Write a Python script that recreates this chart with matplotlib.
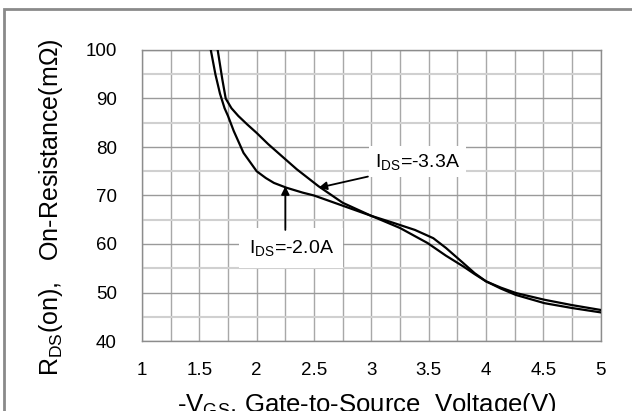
import matplotlib
matplotlib.use("Agg")
import matplotlib.pyplot as plt
from matplotlib.patches import Rectangle

plt.rcParams['font.family'] = ['Liberation Sans', 'DejaVu Sans']
plt.rcParams['mathtext.fontset'] = 'custom'
plt.rcParams['mathtext.rm'] = 'Liberation Sans'
plt.rcParams['mathtext.it'] = 'Liberation Sans'

# Data
v33 = [1.60, 1.66, 1.70, 1.73, 1.78, 1.84, 1.92, 2.00, 2.10, 2.22, 2.35, 2.54, 2.75,
       3.00, 3.20, 3.38, 3.54, 3.65, 3.80, 3.90, 4.00, 4.13, 4.26, 4.51, 4.75, 5.00]
r33 = [106, 100, 94, 90, 88, 86.4, 84.6, 82.9, 80.6, 78.1, 75.4, 71.9, 68.5,
       65.8, 64.3, 62.9, 61.2, 59.2, 56.1, 54.0, 52.3, 51.0, 49.9, 48.5, 47.4, 46.4]

v20 = [1.56, 1.60, 1.64, 1.68, 1.72, 1.75, 1.80, 1.885, 2.00, 2.08, 2.15, 2.26, 2.40,
       2.50, 2.75, 3.00, 3.25, 3.49, 3.65, 3.80, 3.90, 4.00, 4.13, 4.26, 4.51, 4.75, 5.00]
r20 = [106, 100, 95, 91, 88, 86.4, 83.3, 78.8, 75.0, 73.6, 72.6, 71.6, 70.6,
       70.0, 67.9, 65.8, 63.3, 60.2, 57.6, 55.4, 53.8, 52.3, 50.8, 49.5, 47.8, 46.8, 45.9]

xticks = [1, 1.5, 2, 2.5, 3, 3.5, 4, 4.5, 5]
xticklabels = ['1', '1.5', '2', '2.5', '3', '3.5', '4', '4.5', '5']
yticks = [40, 50, 60, 70, 80, 90, 100]

W, H = 632, 411
fig = plt.figure(figsize=(W / 100, H / 100), dpi=100)
ax = fig.add_axes([142 / W, 1 - 341 / H, (600.7 - 142) / W, (341 - 50) / H])

ax.set_xlim(1, 5)
ax.set_ylim(40, 100)

# grid
for i in range(17):
    xv = 1 + 0.25 * i
    ax.axvline(xv, color='#a8a8a8', lw=1.0, zorder=1)
for yv in [45, 55, 65, 75, 85, 95]:
    ax.axhline(yv, color='#d0d0d0', lw=1.5, zorder=1)
for yv in yticks:
    ax.axhline(yv, color='#9a9a9a', lw=1.0, zorder=1)

for s in ax.spines.values():
    s.set_color('#8c8c8c')
    s.set_linewidth(1.0)

ax.plot(v33, r33, color='black', lw=1.6, zorder=3, solid_joinstyle='round')
ax.plot(v20, r20, color='black', lw=1.6, zorder=3, solid_joinstyle='round')

ax.set_xticks(xticks)
ax.set_xticklabels(xticklabels)
ax.set_yticks(yticks)
ax.tick_params(axis='both', length=0, labelsize=13.5)
ax.tick_params(axis='x', pad=15)
ax.tick_params(axis='y', pad=18)

# annotations
ax.text(3.40, 77.0, r'I$_{\mathrm{DS}}$=-3.3A', fontsize=14, ha='center', va='center',
        zorder=5, bbox=dict(boxstyle='square,pad=0.3', fc='white', ec='none'))
ax.annotate('', xy=(2.54, 71.6), xytext=(2.97, 73.9),
            arrowprops=dict(arrowstyle='-|>', color='black', lw=1.3,
                            mutation_scale=12, shrinkA=0, shrinkB=0), zorder=6)

ax.text(2.30, 59.2, r'I$_{\mathrm{DS}}$=-2.0A', fontsize=14, ha='center', va='center',
        zorder=5, bbox=dict(boxstyle='square,pad=0.5', fc='white', ec='none'))
ax.annotate('', xy=(2.25, 71.9), xytext=(2.25, 62.9),
            arrowprops=dict(arrowstyle='-|>', color='black', lw=1.3,
                            mutation_scale=12, shrinkA=0, shrinkB=0), zorder=6)

# axis labels (figure coords)
fig.text(51 / W, 1 - 207 / H, r'R$_{\mathrm{DS}}$(on),   On-Resistance(m$\Omega$)',
         rotation=90, ha='center', va='center', fontsize=18)
fig.text(367 / W, 1 - 412 / H, r'-V$_{\mathrm{GS}}$, Gate-to-Source  Voltage(V)',
         ha='center', va='baseline', fontsize=18.5)

# outer border
fig.patches.append(Rectangle((4 / W, -0.1), 1.2, 1 - 9 / H + 0.1, transform=fig.transFigure,
                             fill=False, ec='#8a8a8a', lw=2.0))

fig.savefig('out.png', dpi=100)
